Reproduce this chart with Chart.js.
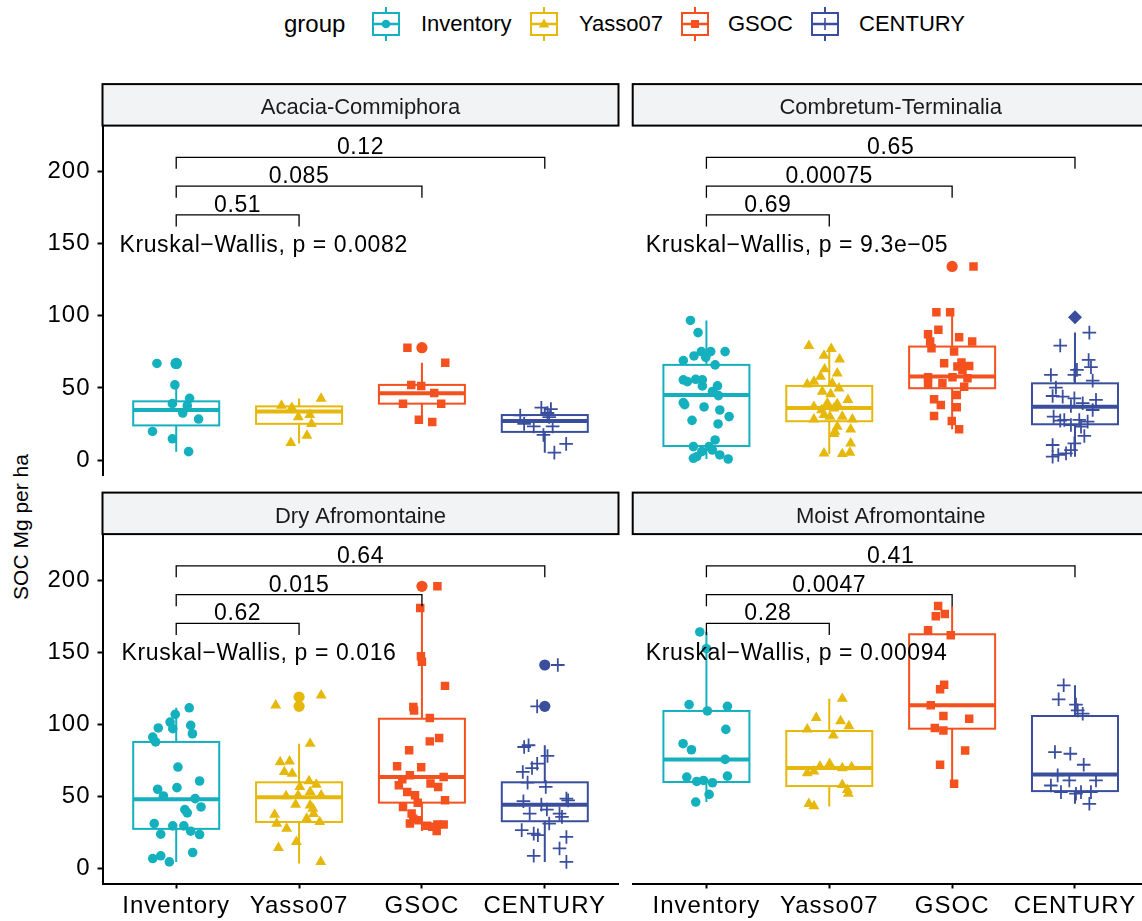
<!DOCTYPE html>
<html>
<head>
<meta charset="utf-8">
<title>SOC Mg per ha by vegetation type</title>
<script src="https://cdn.jsdelivr.net/npm/chart.js@4.4.1/dist/chart.umd.min.js"></script>
<style>
  html, body { margin: 0; padding: 0; width: 1142px; height: 921px; overflow: hidden; background: #fff; }
  body { position: relative; font-family: "Liberation Sans", Arial, Helvetica, sans-serif; color: #000; }
  canvas { position: absolute; }
  .lg-text { position: absolute; top: 9px; line-height: 30px; font-size: 22px; white-space: nowrap; }
  .lg-title { font-size: 24px; }
  .lg-key { position: absolute; top: 6px; }
  #ytitle { position: absolute; left: 21px; top: 527px; transform: translate(-50%, -50%) rotate(-90deg);
            font-size: 21px; white-space: nowrap; }
</style>
</head>
<body>
<div id="legend"></div>
<div id="ytitle">SOC Mg per ha</div>
<canvas id="pAC" width="625" height="400" style="left:0px;top:80px"></canvas>
<canvas id="pCT" width="524" height="400" style="left:626px;top:80px"></canvas>
<canvas id="pDA" width="625" height="433" style="left:0px;top:488px"></canvas>
<canvas id="pMA" width="524" height="433" style="left:626px;top:488px"></canvas>
<script>
// ---------------- data ----------------
const categories = ['Inventory', 'Yasso07', 'GSOC', 'CENTURY'];
const facetTitles = ['Acacia-Commiphora', 'Combretum-Terminalia', 'Dry Afromontaine', 'Moist Afromontaine'];

// Acacia-Commiphora: SOC values per group, horizontal jitter per point
const acValues = [
  [67.0, 67.0, 52.1, 42.8, 39.1, 37.7, 32.6, 28.4, 19.8, 14.7, 5.8],
  [42.6, 37.7, 36.3, 31.4, 29.8, 25.1, 17.0, 11.9],
  [77.9, 67.4, 52.1, 51.4, 46.5, 39.1, 39.1, 27.9, 26.3],
  [36.3, 35.3, 32.6, 30.9, 29.8, 25.1, 23.3, 23.3, 17.4, 11.2, 5.1]
];
const acJitter = [
  [-0.157, 0.0, -0.011, 0.109, -0.031, 0.09, 0.053, 0.182, -0.193, -0.031, 0.101],
  [0.179, -0.143, -0.059, 0.087, -0.006, 0.101, 0.064, -0.067],
  [-0.118, 0.19, -0.087, -0.006, 0.10, -0.154, 0.157, -0.025, 0.084],
  [-0.028, 0.05, 0.022, -0.2, 0.036, -0.168, -0.09, 0.064, -0.011, 0.174, 0.078]
];
// whisker low, Q1, median, Q3, whisker high
const acBoxes = [
  [5.8, 24.0, 34.7, 40.7, 52.1],
  [11.5, 25.1, 33.7, 37.2, 42.6],
  [26.3, 39.1, 46.3, 52.1, 67.4],
  [5.1, 19.5, 27.0, 31.2, 36.3]
];
const acOutliers = [[67.0, 67.0], [], [77.9], []];
const acPairP = ['0.51', '0.085', '0.12'];
const acKW = '0.0082';

// Combretum-Terminalia
const ctValues = [
  [96.8, 88.4, 69.0, 72.2, 75.2, 75.2, 75.2, 71.3, 66.0, 55.6, 54.4, 56.0, 55.6, 51.4, 51.4, 47.5, 44.7,
   39.8, 38.4, 36.8, 34.7, 30.1, 27.5, 25.0, 9.3, 13.9, 9.3, 5.8, 2.3, 1.2, 3.5, 0.7, 6.9],
  [79.2, 77.1, 72.5, 69.9, 63.0, 60.2, 57.9, 54.4, 52.5, 53.2, 49.8, 47.5, 45.8, 41.7, 39.4, 38.9, 37.0,
   34.7, 35.9, 28.2, 31.3, 30.1, 28.2, 23.1, 19.7, 21.3, 18.1, 11.6, 4.6, 4.2, 5.1, 30.1],
  [134.3, 102.5, 102.5, 90.3, 87.3, 85.2, 82.2, 82.2, 77.5, 75.2, 67.1, 67.6, 65.3, 64.8, 62.5, 57.4, 57.4,
   56.7, 52.8, 53.2, 50.9, 45.1, 42.1, 38.2, 36.6, 30.6, 27.1, 21.3],
  [88.4, 79.4, 69.4, 64.4, 62.5, 59.0, 59.0, 55.1, 50.2, 44.4, 44.0, 42.8, 41.7, 39.4, 37.5, 34.7, 30.1,
   27.8, 27.8, 26.6, 24.3, 16.7, 10.4, 11.6, 2.3, 3.5, 4.6, 6.9, 27.3, 23.1]
];
const ctJitter = [
  [-0.13, -0.068, -0.188, -0.101, -0.041, 0.035, 0.152, -0.005, 0.071, -0.188, -0.155, -0.087, -0.033, -0.033, 0.09, 0.049, 0.098,
   -0.188, -0.177, -0.019, 0.109, 0.185, -0.117, 0.095, -0.106, 0.071, 0.022, -0.038, -0.079, -0.106, 0.109, 0.177, 0.049],
  [-0.166, 0.016, -0.043, 0.084, -0.038, 0.065, -0.071, -0.125, -0.179, 0.024, 0.079, -0.057, 0.011, 0.152, -0.016, 0.065, -0.125,
   -0.063, 0.038, -0.125, -0.043, 0.106, 0.188, 0.065, 0.046, 0.174, 0.038, 0.174, -0.043, 0.106, 0.168, 0.005],
  [0.174, -0.128, -0.016, -0.112, -0.196, 0.057, -0.179, 0.163, -0.168, 0.016, -0.065, 0.076, 0.139, 0.043, 0.084, -0.196, 0.003,
   0.125, -0.196, -0.079, 0.098, 0.038, -0.147, -0.092, 0.038, -0.147, -0.003, 0.057],
  [0.117, -0.12, 0.111, 0.13, 0.016, -0.005, -0.196, 0.144, -0.155, -0.182, -0.1, -0.005, 0.171, 0.063, -0.033, 0.144, -0.174,
   -0.087, 0.035, 0.103, -0.033, 0.076, -0.182, -0.005, -0.182, -0.136, -0.073, -0.033, -0.12, 0.049]
];
const ctBoxes = [
  [0.7, 9.7, 45.1, 66.0, 96.8],
  [4.2, 26.9, 36.1, 51.4, 78.5],
  [21.3, 49.8, 57.9, 78.7, 102.5],
  [2.3, 24.8, 37.0, 53.2, 88.4]
];
const ctOutliers = [[], [], [134.3], [99.1]];
const ctPairP = ['0.69', '0.00075', '0.65'];
const ctKW = '9.3e\u221205';

// Dry Afromontaine
const daValues = [
  [111.5, 106.9, 101.6, 97.5, 97.0, 99.3, 93.5, 91.2, 87.8, 70.4, 60.7, 55.0, 56.1, 50.3, 48.5, 40.9, 38.6,
   42.7, 31.2, 29.6, 29.6, 25.9, 23.6, 23.8, 11.1, 6.9, 8.8, 4.6],
  [120.1, 113.2, 86.6, 73.9, 74.4, 67.0, 65.8, 60.7, 58.2, 56.6, 53.1, 50.3, 50.8, 50.8, 44.3, 41.6, 43.9,
   37.4, 37.9, 34.6, 31.2, 32.3, 27.7, 18.5, 14.3, 4.6],
  [195.8, 180.7, 147.2, 143.5, 126.7, 112.0, 109.7, 104.4, 90.5, 88.2, 82.0, 70.9, 70.2, 64.7, 63.5, 61.9, 58.9,
   56.6, 57.7, 53.1, 50.8, 45.7, 47.3, 42.7, 38.1, 34.6, 31.2, 33.5, 29.6, 30.5, 30.5, 26.1, 28.9],
  [141.2, 112.5, 84.3, 85.5, 78.1, 72.7, 69.7, 67.0, 59.6, 56.6, 46.7, 44.3, 48.5, 47.3, 40.9, 38.1, 38.1,
   35.8, 31.2, 26.6, 24.2, 23.1, 21.9, 13.9, 8.8, 4.6]
];
const daJitter = [
  [0.106, -0.008, -0.05, -0.146, -0.028, 0.118, 0.132, -0.191, -0.168, 0.014, 0.19, -0.151, 0.006, -0.104, 0.154, 0.07, 0.09,
   0.202, -0.179, -0.028, 0.062, 0.118, 0.19, -0.126, 0.134, -0.191, -0.126, -0.056],
  [0.18, -0.19, 0.09, -0.154, -0.078, -0.12, -0.056, 0.081, 0.14, 0.006, 0.09, -0.106, -0.008, 0.18, -0.028, 0.112, 0.09,
   -0.199, 0.118, 0.062, -0.182, 0.168, -0.101, -0.022, -0.168, 0.176],
  [0.126, -0.014, -0.008, 0.0, 0.188, -0.07, -0.064, 0.064, 0.14, 0.064, -0.104, -0.202, -0.006, -0.098, 0.177, -0.16, 0.07,
   0.132, -0.188, -0.12, -0.056, -0.034, 0.188, -0.154, -0.084, -0.07, -0.098, -0.028, 0.042, 0.126, 0.177, 0.12, 0.084],
  [0.106, -0.062, -0.168, -0.132, 0.022, -0.062, -0.104, -0.179, -0.14, 0.008, -0.174, -0.028, 0.176, 0.19, 0.017, -0.123, 0.12,
   0.14, 0.036, -0.188, -0.09, -0.056, 0.176, 0.12, -0.09, 0.176]
];
const daBoxes = [
  [4.6, 27.5, 48.0, 87.8, 111.5],
  [3.5, 32.3, 49.4, 59.8, 86.6],
  [26.1, 45.7, 63.5, 103.9, 180.7],
  [4.6, 32.8, 44.3, 59.8, 85.5]
];
const daOutliers = [[], [118.9, 112.5], [195.8], [141.2, 112.5]];
const daPairP = ['0.62', '0.015', '0.64'];
const daKW = '0.016';

// Moist Afromontaine
const maValues = [
  [164.1, 152.5, 113.7, 112.5, 109.3, 96.5, 86.6, 82.4, 75.7, 63.4, 64.1, 60.4, 61.1, 59.5, 51.4, 46.1],
  [117.8, 104.6, 102.3, 98.8, 96.5, 92.4, 72.7, 70.8, 69.7, 70.4, 66.2, 67.4, 58.1, 54.6, 51.9, 44.9, 43.3],
  [182.2, 175.0, 176.6, 165.3, 161.8, 127.5, 124.3, 113.2, 105.8, 103.9, 97.5, 95.8, 81.9, 72.0, 58.8],
  [127.1, 117.4, 113.7, 109.7, 107.4, 80.8, 79.6, 72.0, 64.6, 61.1, 61.1, 57.6, 53.0, 51.9, 53.0, 53.0, 44.9]
];
const maJitter = [
  [-0.054, 0.0, -0.141, 0.171, 0.008, 0.158, -0.19, -0.122, 0.152, -0.16, 0.171, -0.079, -0.024, 0.049, 0.022, -0.087],
  [0.106, -0.106, 0.092, 0.16, -0.179, 0.033, 0.003, -0.076, 0.106, 0.182, -0.179, -0.125, 0.106, 0.147, 0.155, -0.166, -0.125],
  [-0.114, -0.133, -0.06, -0.196, -0.011, -0.065, -0.098, -0.174, -0.071, 0.139, -0.141, -0.071, 0.106, -0.098, 0.016],
  [-0.092, -0.133, 0.008, 0.022, 0.063, -0.163, -0.038, 0.071, -0.141, -0.046, 0.171, -0.196, -0.114, 0.008, 0.049, 0.13, 0.117]
];
const maBoxes = [
  [46.1, 60.0, 75.7, 109.3, 164.1],
  [43.1, 57.2, 69.7, 95.4, 117.8],
  [58.8, 97.0, 113.2, 162.5, 182.2],
  [44.9, 53.7, 65.3, 105.8, 127.1]
];
const maOutliers = [[], [], [], []];
const maPairP = ['0.28', '0.0047', '0.41'];
const maKW = '0.00094';

const yTicks = [0, 50, 100, 150, 200];

// ---------------- styling ----------------
const FONT = '"Liberation Sans", Arial, Helvetica, sans-serif';
const groupColors = ['#14B0BE', '#E5B80B', '#F4511E', '#3A4E9E'];
const groupShapes = ['circle', 'triangle', 'rect', 'cross'];
const shapeRadius = [4.8, 6.3, 6.0, 6.8];
const bracketLevels = [170, 190, 210];   // y of the pairwise comparison brackets
const kwLevel = 150;                      // y of the Kruskal-Wallis label
const Y_MIN = -10.4, Y_MAX = 232;
const BOX_HALF = 0.35;

const panels = [
  { id: 'pAC', values: acValues, jitter: acJitter, boxes: acBoxes, outliers: acOutliers, pairs: acPairP, kw: acKW,
    kwX: 0.538, showY: true, showX: false, pad: { left: 0, right: 6.5, top: 45.6, bottom: 5 } },
  { id: 'pCT', values: ctValues, jitter: ctJitter, boxes: ctBoxes, outliers: ctOutliers, pairs: ctPairP, kw: ctKW,
    kwX: 0.506, showY: false, showX: false, pad: { left: 6.7, right: 1.3, top: 45.6, bottom: 5 }, diamondOutlier: 3 },
  { id: 'pDA', values: daValues, jitter: daJitter, boxes: daBoxes, outliers: daOutliers, pairs: daPairP, kw: daKW,
    kwX: 0.555, showY: true, showX: true, pad: { left: 0, right: 6.5, top: 46.1, bottom: 0 } },
  { id: 'pMA', values: maValues, jitter: maJitter, boxes: maBoxes, outliers: maOutliers, pairs: maPairP, kw: maKW,
    kwX: 0.506, showY: false, showX: true, pad: { left: 6.7, right: 1.3, top: 46.1, bottom: 0 } }
];

// ---------------- legend (HTML) ----------------
function buildLegend() {
  const lg = document.getElementById('legend');
  const title = document.createElement('div');
  title.className = 'lg-text lg-title';
  title.style.left = '284px';
  title.textContent = 'group';
  lg.appendChild(title);
  const keyCenters = [386, 544, 695, 825];
  const textLefts = [421, 579, 728, 859];
  const ns = 'http://www.w3.org/2000/svg';
  categories.forEach((name, g) => {
    const c = groupColors[g];
    const svg = document.createElementNS(ns, 'svg');
    svg.setAttribute('width', '30');
    svg.setAttribute('height', '36');
    svg.setAttribute('class', 'lg-key');
    svg.style.left = (keyCenters[g] - 15) + 'px';
    let inner = `<line x1="15" y1="1" x2="15" y2="35" stroke="${c}" stroke-width="2"/>` +
      `<rect x="2" y="7" width="26" height="22" fill="#fff" stroke="${c}" stroke-width="2"/>` +
      `<line x1="2" y1="18" x2="28" y2="18" stroke="${c}" stroke-width="2.5"/>`;
    if (g === 0) inner += `<circle cx="15" cy="18" r="4.3" fill="${c}"/>`;
    if (g === 1) inner += `<polygon points="15,12.5 20.2,21.5 9.8,21.5" fill="${c}"/>`;
    if (g === 2) inner += `<rect x="11" y="14" width="8" height="8" fill="${c}"/>`;
    if (g === 3) inner += `<line x1="9" y1="18" x2="21" y2="18" stroke="${c}" stroke-width="1.6"/>` +
                          `<line x1="15" y1="12" x2="15" y2="24" stroke="${c}" stroke-width="1.6"/>`;
    svg.innerHTML = inner;
    lg.appendChild(svg);
    const t = document.createElement('div');
    t.className = 'lg-text';
    t.style.left = textLefts[g] + 'px';
    t.textContent = name;
    lg.appendChild(t);
  });
}
buildLegend();

// ---------------- facet decorations: boxes, strips, brackets ----------------
const facetDecor = {
  id: 'facetDecor',
  beforeDraw(chart) {
    chart.ctx.letterSpacing = '1px';
  },
  beforeDatasetsDraw(chart, args, opts) {
    const p = panels[opts.panel];
    const { ctx, scales: { x, y } } = chart;
    p.boxes.forEach((b, g) => {
      const cx = x.getPixelForValue(g + 1);
      const hw = x.getPixelForValue(g + 1 + BOX_HALF) - cx;
      const [lo, q1, med, q3, hi] = b.map(v => y.getPixelForValue(v));
      ctx.save();
      ctx.strokeStyle = groupColors[g];
      ctx.lineWidth = 2;
      ctx.beginPath();
      ctx.moveTo(cx, q3); ctx.lineTo(cx, hi);
      ctx.moveTo(cx, q1); ctx.lineTo(cx, lo);
      ctx.stroke();
      ctx.fillStyle = '#ffffff';
      ctx.fillRect(cx - hw, q3, 2 * hw, q1 - q3);
      ctx.strokeRect(cx - hw, q3, 2 * hw, q1 - q3);
      ctx.lineWidth = 4;
      ctx.beginPath();
      ctx.moveTo(cx - hw, med); ctx.lineTo(cx + hw, med);
      ctx.stroke();
      ctx.restore();
    });
  },
  afterDraw(chart, args, opts) {
    const idx = opts.panel;
    const p = panels[idx];
    const { ctx, chartArea: ca, scales: { x, y } } = chart;
    ctx.save();
    ctx.letterSpacing = '0px';
    // strip
    const sTop = ca.top - 41.5;
    ctx.fillStyle = '#F2F3F5';
    ctx.fillRect(ca.left, sTop, ca.right - ca.left, ca.top - sTop);
    ctx.strokeStyle = '#000';
    ctx.lineWidth = 2;
    ctx.strokeRect(ca.left, sTop, ca.right - ca.left, ca.top - sTop);
    ctx.fillStyle = '#1A1A1A';
    ctx.font = '22px ' + FONT;
    ctx.textAlign = 'center';
    ctx.textBaseline = 'alphabetic';
    ctx.fillText(facetTitles[idx], (ca.left + ca.right) / 2, ca.top - 11.5);

    // pairwise brackets: Inventory vs each other group
    ctx.strokeStyle = '#000';
    ctx.lineWidth = 1.3;
    ctx.fillStyle = '#000';
    ctx.font = '23px ' + FONT;
    ctx.letterSpacing = '0.6px';
    const x0 = x.getPixelForValue(1);
    bracketLevels.forEach((lvl, k) => {
      const x1 = x.getPixelForValue(k + 2);
      const yy = y.getPixelForValue(lvl);
      ctx.beginPath();
      ctx.moveTo(x0, yy + 11.5); ctx.lineTo(x0, yy); ctx.lineTo(x1, yy); ctx.lineTo(x1, yy + 11.5);
      ctx.stroke();
      ctx.textAlign = 'center';
      ctx.fillText(p.pairs[k], (x0 + x1) / 2, yy - 3);
    });
    // global test label
    ctx.textAlign = 'left';
    ctx.fillText('Kruskal\u2212Wallis, p = ' + p.kw, x.getPixelForValue(p.kwX), y.getPixelForValue(kwLevel) + 8);
    ctx.restore();
  }
};

function buildDatasets(p) {
  const sets = [];
  // jittered observations (drawn on top)
  p.values.forEach((vals, g) => {
    sets.push({
      data: vals.map((v, i) => ({ x: g + 1 + p.jitter[g][i], y: v })),
      pointStyle: groupShapes[g],
      pointRadius: shapeRadius[g],
      backgroundColor: groupColors[g],
      borderColor: groupColors[g],
      borderWidth: groupShapes[g] === 'cross' ? 1.8 : 0
    });
  });
  // box-plot outliers at the group centre
  p.outliers.forEach((vals, g) => {
    if (!vals.length) return;
    const diamond = p.diamondOutlier === g;
    sets.push({
      data: vals.map(v => ({ x: g + 1, y: v })),
      pointStyle: diamond ? 'rectRot' : 'circle',
      pointRadius: diamond ? 7 : 5.6,
      backgroundColor: groupColors[g],
      borderColor: groupColors[g],
      borderWidth: 0
    });
  });
  return sets;
}

panels.forEach((p, idx) => {
  new Chart(document.getElementById(p.id), {
    type: 'scatter',
    data: { datasets: buildDatasets(p) },
    options: {
      responsive: false,
      devicePixelRatio: 1,
      animation: false,
      events: [],
      layout: { padding: p.pad, autoPadding: false },
      plugins: { legend: { display: false }, tooltip: { enabled: false }, facetDecor: { panel: idx } },
      scales: {
        x: {
          type: 'linear', min: 0.4, max: 4.6, display: p.showX,
          afterBuildTicks: s => { s.ticks = [1, 2, 3, 4].map(v => ({ value: v })); },
          afterFit: s => { s.height = p.showX ? 37.5 : 0; s.paddingLeft = 0; s.paddingRight = 0; },
          grid: { drawOnChartArea: false, drawTicks: true, tickLength: 5, tickWidth: 2, tickColor: '#000' },
          border: { display: true, color: '#000', width: 2 },
          ticks: { color: '#000', font: { family: FONT, size: 24 }, padding: 3, maxRotation: 0,
                   autoSkip: false, callback: v => categories[v - 1] }
        },
        y: {
          type: 'linear', min: Y_MIN, max: Y_MAX, display: p.showY,
          afterBuildTicks: s => { s.ticks = yTicks.map(v => ({ value: v })); },
          afterFit: s => { s.width = p.showY ? 102.5 : 0; s.paddingTop = 0; s.paddingBottom = 0; },
          grid: { drawOnChartArea: false, drawTicks: true, tickLength: 5, tickWidth: 2, tickColor: '#000' },
          border: { display: true, color: '#000', width: 2 },
          ticks: { color: '#000', font: { family: FONT, size: 24 }, padding: 7 }
        }
      }
    },
    plugins: [facetDecor]
  });
});
</script>
</body>
</html>
